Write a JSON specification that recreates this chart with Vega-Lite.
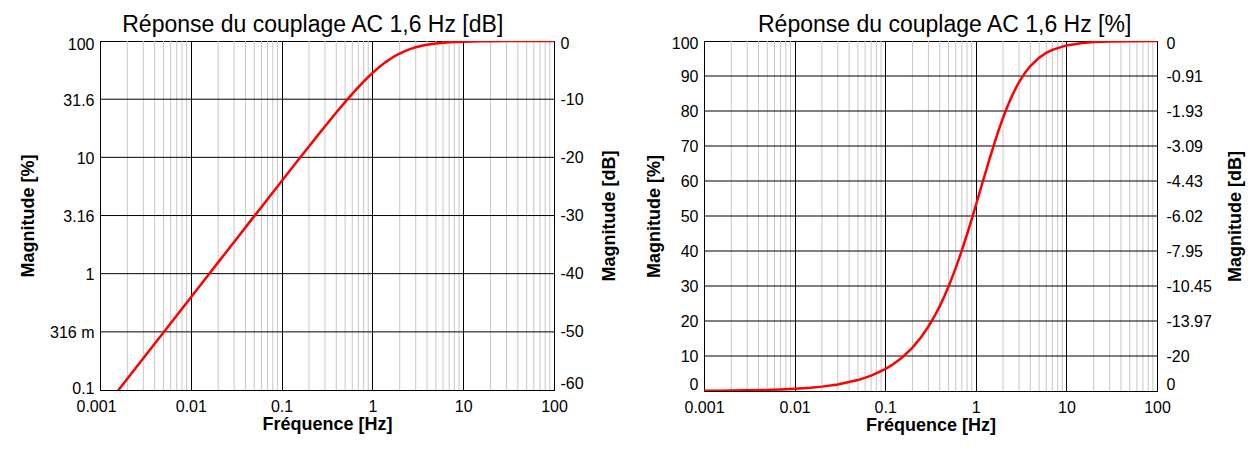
{
"$schema":"https://vega.github.io/schema/vega-lite/v6.json",
"background":"white",
"padding":{"left":19,"top":13,"right":5,"bottom":5},
"config":{"font":"Liberation Sans",
 "view":{"stroke":"black","strokeWidth":1},
 "axis":{"labelFont":"Liberation Sans","labelFontSize":16,"labelColor":"black","titleFont":"Liberation Sans","titleFontSize":18,"titleFontWeight":"bold","titleColor":"black","ticks":false,"domainColor":"black","gridColor":"black","gridOpacity":1,"labelFlush":false,"labelPadding":6},
 "title":{"font":"Liberation Sans","fontSize":23,"fontWeight":"normal","color":"black"},
 "concat":{"spacing":25}},
"datasets":{
 "curve":[{"f":0.001,"m":0.0625},{"f":0.0015,"m":0.0938},{"f":0.002,"m":0.125},{"f":0.003,"m":0.1875},{"f":0.005,"m":0.3125},{"f":0.007,"m":0.4375},{"f":0.01,"m":0.625},{"f":0.015,"m":0.9375},{"f":0.02,"m":1.25},{"f":0.03,"m":1.875},{"f":0.05,"m":3.124},{"f":0.07,"m":4.371},{"f":0.1,"m":6.238},{"f":0.12,"m":7.479},{"f":0.15,"m":9.334},{"f":0.2,"m":12.403},{"f":0.25,"m":15.438},{"f":0.3,"m":18.429},{"f":0.35,"m":21.37},{"f":0.4,"m":24.254},{"f":0.45,"m":27.075},{"f":0.5,"m":29.827},{"f":0.6,"m":35.112},{"f":0.7,"m":40.082},{"f":0.8,"m":44.721},{"f":0.9,"m":49.026},{"f":1.0,"m":53.0},{"f":1.1,"m":56.653},{"f":1.2,"m":60.0},{"f":1.4,"m":65.85},{"f":1.6,"m":70.711},{"f":1.8,"m":74.741},{"f":2.0,"m":78.087},{"f":2.25,"m":81.496},{"f":2.5,"m":84.227},{"f":2.75,"m":86.435},{"f":3.0,"m":88.235},{"f":3.5,"m":90.947},{"f":4.0,"m":92.848},{"f":5.0,"m":95.243},{"f":6.0,"m":96.623},{"f":7.0,"m":97.486},{"f":10,"m":98.744},{"f":15,"m":99.436},{"f":20,"m":99.681},{"f":30,"m":99.858},{"f":50,"m":99.949},{"f":100,"m":99.987}],
 "minor":[{"g":0.002},{"g":0.003},{"g":0.004},{"g":0.005},{"g":0.006},{"g":0.007},{"g":0.008},{"g":0.009},{"g":0.02},{"g":0.03},{"g":0.04},{"g":0.05},{"g":0.06},{"g":0.07},{"g":0.08},{"g":0.09},{"g":0.2},{"g":0.3},{"g":0.4},{"g":0.5},{"g":0.6},{"g":0.7},{"g":0.8},{"g":0.9},{"g":2},{"g":3},{"g":4},{"g":5},{"g":6},{"g":7},{"g":8},{"g":9},{"g":20},{"g":30},{"g":40},{"g":50},{"g":60},{"g":70},{"g":80},{"g":90}],
 "ydb":[{"v":0.316},{"v":1},{"v":3.16},{"v":10},{"v":31.6}],
 "ypct":[{"v":10},{"v":20},{"v":30},{"v":40},{"v":50},{"v":60},{"v":70},{"v":80},{"v":90}]
},
"hconcat":[
 {"width":454,"height":349,
  "title":{"text":"Réponse du couplage AC 1,6 Hz [dB]","frame":"bounds","anchor":"middle","offset":-2,"dx":-6},
  "layer":[
   {"data":{"name":"minor"},"mark":{"type":"rule","color":"#c8c8c8","strokeWidth":1},
    "encoding":{"x":{"field":"g","type":"quantitative","scale":{"type":"log","domain":[0.001,100]},"title":"Fréquence [Hz]","axis":{"values":[0.001,0.01,0.1,1,10,100],"format":"~g","grid":true,"labelPadding":8,"titlePadding":1,"labelOffset":{"condition":{"test":"datum.value < 0.002","value":-4},"value":0}}}}},
   {"data":{"name":"ydb"},"mark":{"type":"rule","color":"black","strokeWidth":1},
    "encoding":{"y":{"field":"v","type":"quantitative","scale":{"type":"log","domain":[0.1,100]},"title":"Magnitude [dB]","axis":{"orient":"right","values":[0.1,0.316,1,3.16,10,31.6,100],"labelExpr":"datum.value < 0.2 ? '-60' : datum.value < 0.5 ? '-50' : datum.value < 2 ? '-40' : datum.value < 5 ? '-30' : datum.value < 20 ? '-20' : datum.value < 50 ? '-10' : '0'","labelOffset":{"condition":[{"test":"datum.value < 0.2","value":-7},{"test":"datum.value > 50","value":2}],"value":0},"titleAngle":270,"titleBaseline":"middle","titleX":55,"titleY":174.5,"grid":false}}}},
   {"data":{"name":"curve"},"mark":{"type":"line","color":"#ff0000","strokeWidth":2.5,"clip":true},
    "encoding":{"x":{"field":"f","type":"quantitative","scale":{"type":"log","domain":[0.001,100]},"title":"Fréquence [Hz]","axis":{"values":[0.001,0.01,0.1,1,10,100],"format":"~g","grid":true,"labelPadding":8,"titlePadding":1,"labelOffset":{"condition":{"test":"datum.value < 0.002","value":-4},"value":0}}},
     "y":{"field":"m","type":"quantitative","scale":{"type":"log","domain":[0.1,100]},"title":"Magnitude [%]","axis":{"orient":"left","values":[0.1,0.316,1,3.16,10,31.6,100],"format":"~g","labelExpr":"datum.value > 0.2 && datum.value < 0.5 ? '316 m' : datum.label","labelOffset":{"condition":[{"test":"datum.value < 0.2","value":-2},{"test":"datum.value > 50","value":3}],"value":1},"grid":false,"titlePadding":12}}}}
  ],
  "resolve":{"axis":{"y":"independent"}}
 },
 {"width":453,"height":350,
  "title":{"text":"Réponse du couplage AC 1,6 Hz [%]","frame":"bounds","anchor":"middle","offset":-2},
  "layer":[
   {"data":{"name":"minor"},"mark":{"type":"rule","color":"#c8c8c8","strokeWidth":1},
    "encoding":{"x":{"field":"g","type":"quantitative","scale":{"type":"log","domain":[0.001,100]},"title":"Fréquence [Hz]","axis":{"values":[0.001,0.01,0.1,1,10,100],"format":"~g","grid":true,"labelPadding":8,"titlePadding":1}}}},
   {"data":{"name":"ypct"},"mark":{"type":"rule","color":"black","strokeWidth":1},
    "encoding":{"y":{"field":"v","type":"quantitative","scale":{"domain":[0,100]},"title":"Magnitude [dB]","axis":{"orient":"right","values":[0,10,20,30,40,50,60,70,80,90,100],"labelExpr":"['0','-20','-13.97','-10.45','-7.95','-6.02','-4.43','-3.09','-1.93','-0.91','0'][round(datum.value/10)]","labelOffset":{"condition":[{"test":"datum.value < 5","value":-7},{"test":"datum.value > 95","value":2}],"value":0},"labelPadding":9,"titleAngle":270,"titleBaseline":"middle","titleX":78,"titleY":175,"grid":false}}}},
   {"data":{"name":"curve"},"mark":{"type":"line","color":"#ff0000","strokeWidth":2.5,"clip":true},
    "encoding":{"x":{"field":"f","type":"quantitative","scale":{"type":"log","domain":[0.001,100]},"title":"Fréquence [Hz]","axis":{"values":[0.001,0.01,0.1,1,10,100],"format":"~g","grid":true,"labelPadding":8,"titlePadding":1}},
     "y":{"field":"m","type":"quantitative","scale":{"domain":[0,100]},"title":"Magnitude [%]","axis":{"orient":"left","values":[0,10,20,30,40,50,60,70,80,90,100],"labelOffset":{"condition":[{"test":"datum.value < 5","value":-7},{"test":"datum.value > 95","value":2}],"value":0},"grid":false,"titlePadding":8}}}}
  ],
  "resolve":{"axis":{"y":"independent"}}
 }
]
}
